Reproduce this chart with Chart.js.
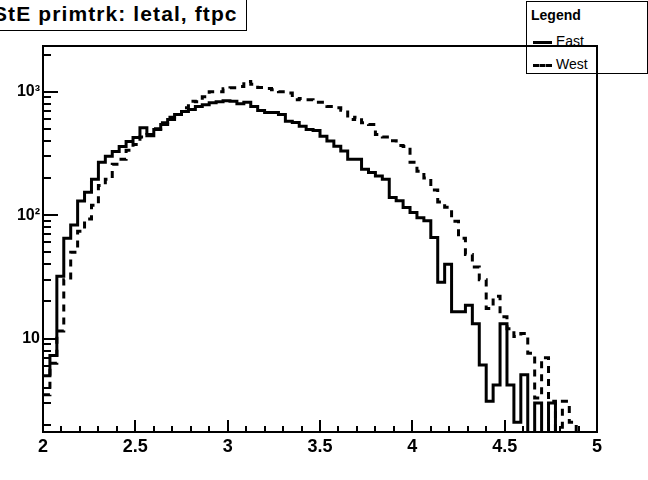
<!DOCTYPE html>
<html>
<head>
<meta charset="utf-8">
<script src="https://cdn.jsdelivr.net/npm/chart.js@4/dist/chart.umd.min.js"></script>
<style>
  html, body { margin: 0; padding: 0; background: #fff; }
  #wrap { position: relative; width: 648px; height: 480px; overflow: hidden; background: #fff; }
  #c { position: absolute; left: 0; top: 0; }
  #title { position: absolute; left: -12px; top: -2px; width: 259px; height: 33px; box-sizing: border-box;
           border: 1.5px solid #000; background: #fff; font: bold 21px "Liberation Sans", Arial, sans-serif;
           letter-spacing: 1.1px; line-height: 30px; padding-left: 4px; white-space: nowrap; color: #000; }
  #legend { position: absolute; left: 526px; top: 1px; width: 122px; height: 73px; box-sizing: border-box;
            border: 1px solid #000; background: #fff; font-family: "Liberation Sans", Arial, sans-serif; color: #000; }
  #legend .hdr { position: absolute; left: 4px; top: 5px; font: bold 14px "Liberation Sans", Arial, sans-serif; }
  #legend .row { position: absolute; left: 6px; font: 14px "Liberation Sans", Arial, sans-serif; }
  #legend .sample { display: inline-block; width: 19px; height: 0; vertical-align: middle; margin-right: 4px; }
</style>
</head>
<body>
<div id="wrap">
  <div id="title"></div>
  <div id="legend">
    <div class="hdr" id="legHdr"></div>
    <div class="row" id="legE" style="top:31px"><span class="sample" style="border-top:3px solid #000"></span><span id="legEText"></span></div>
    <div class="row" id="legW" style="top:54px"><span class="sample" style="border-top:3px dashed #000"></span><span id="legWText"></span></div>
  </div>
  <canvas id="c" width="648" height="480"></canvas>
</div>
<script>
// ---- data ----
const titleText = 'StE primtrk: letal, ftpc';
const legendTitle = 'Legend';
const seriesNames = ['East', 'West'];
const xMin = 2, xMax = 5, nBins = 80;
const eastCounts = [5.0,7.3,32,65,83,130,153,195,268,300,
  328,360,395,425,509,440,494,542,595,652,
  690,716,757,785,815,830,846,835,800,820,
  760,703,677,677,652,576,562,525,494,485,
  436,398,362,330,283,283,235,221,207,195,
  139,131,115,105,95,90,66,28.6,40,16.5,
  16.5,18.6,13.2,6.1,3.1,4.2,13.2,4.2,2.1,5.1,
  1,3,1,3,1,1,1,1,1,1];
const westCounts = [3.5,6.3,11.5,30,50,74,93,120,174,195,
  258,283,335,373,430,450,500,560,620,652,
  740,835,830,910,1000,1000,1057,1077,1100,1210,
  1150,1083,1060,1037,1000,975,862,880,862,820,
  820,760,740,708,595,620,560,542,450,430,
  400,367,360,268,227,200,160,128,116,89,
  65,48,38,30,17.5,22,15,12,10.4,11,
  7.6,3.3,7,3.1,1,3.1,2.1,1,1,1];
const xMajorTicks = [2, 2.5, 3, 3.5, 4, 4.5, 5];
const xTickLabels = ['2', '2.5', '3', '3.5', '4', '4.5', '5'];
const yMajorTicks = [10, 100, 1000];
const yTickLabels = ['10', '10\u00B2', '10\u00B3'];
const yMin = 1.75, yMax = 2344;

// ---- build ----
document.getElementById('title').textContent = titleText;
document.getElementById('legHdr').textContent = legendTitle;
document.getElementById('legEText').textContent = seriesNames[0];
document.getElementById('legWText').textContent = seriesNames[1];

const binW = (xMax - xMin) / nBins;
function stepPoints(counts) {
  const pts = counts.map((v, i) => ({ x: xMin + i * binW, y: v }));
  pts.push({ x: xMax, y: counts[counts.length - 1] });
  return pts;
}

const frameTicks = {
  id: 'frameTicks',
  afterDatasetsDraw(chart) {
    const { ctx, chartArea: a, scales: { x, y } } = chart;
    ctx.save();
    ctx.strokeStyle = '#000';
    ctx.lineWidth = 2;
    ctx.beginPath();
    for (let k = 0; k <= 30; k++) {
      const v = xMin + k * 0.1;
      const px = Math.round(x.getPixelForValue(v));
      const major = k % 5 === 0;
      ctx.moveTo(px, a.bottom);
      ctx.lineTo(px, a.bottom - (major ? 12 : 6));
    }
    for (let d = 0; d <= 4; d++) {
      for (let m = 1; m <= 9; m++) {
        const v = m * Math.pow(10, d);
        if (v < yMin || v > yMax) continue;
        const py = Math.round(y.getPixelForValue(v));
        ctx.moveTo(a.left, py);
        ctx.lineTo(a.left + (m === 1 ? 15 : 8), py);
      }
    }
    ctx.stroke();
    ctx.strokeRect(a.left, a.top, a.right - a.left, a.bottom - a.top);
    ctx.restore();
  }
};

new Chart(document.getElementById('c'), {
  type: 'line',
  data: {
    datasets: [
      { label: seriesNames[0], data: stepPoints(eastCounts), borderColor: '#000', borderWidth: 3,
        stepped: 'before', pointRadius: 0, fill: false, borderJoinStyle: 'miter' },
      { label: seriesNames[1], data: stepPoints(westCounts), borderColor: '#000', borderWidth: 3,
        borderDash: [7, 6], stepped: 'before', pointRadius: 0, fill: false, borderJoinStyle: 'miter' }
    ]
  },
  options: {
    responsive: false,
    animation: false,
    devicePixelRatio: 1,
    layout: { padding: { top: 46, right: 51, left: 0, bottom: 0 } },
    plugins: { legend: { display: false }, title: { display: false }, tooltip: { enabled: false } },
    scales: {
      x: {
        type: 'linear', min: xMin, max: xMax,
        grid: { display: false, drawTicks: false }, border: { display: false },
        afterBuildTicks: s => { s.ticks = xMajorTicks.map(v => ({ value: v })); },
        afterFit: s => { s.height = 48; },
        ticks: { autoSkip: false, maxRotation: 0, padding: 4, color: '#000',
                 font: { family: 'Liberation Sans', size: 18, weight: 'bold' },
                 callback: (v, i) => xTickLabels[i] }
      },
      y: {
        type: 'logarithmic', min: yMin, max: yMax,
        grid: { display: false, drawTicks: false }, border: { display: false },
        afterBuildTicks: s => { s.ticks = yMajorTicks.map(v => ({ value: v })); },
        afterFit: s => { s.width = 43; },
        ticks: { autoSkip: false, padding: 3, color: '#000',
                 font: { family: 'Liberation Sans', size: 16, weight: 'bold' },
                 callback: (v, i) => yTickLabels[i] }
      }
    }
  },
  plugins: [frameTicks]
});
</script>
</body>
</html>
